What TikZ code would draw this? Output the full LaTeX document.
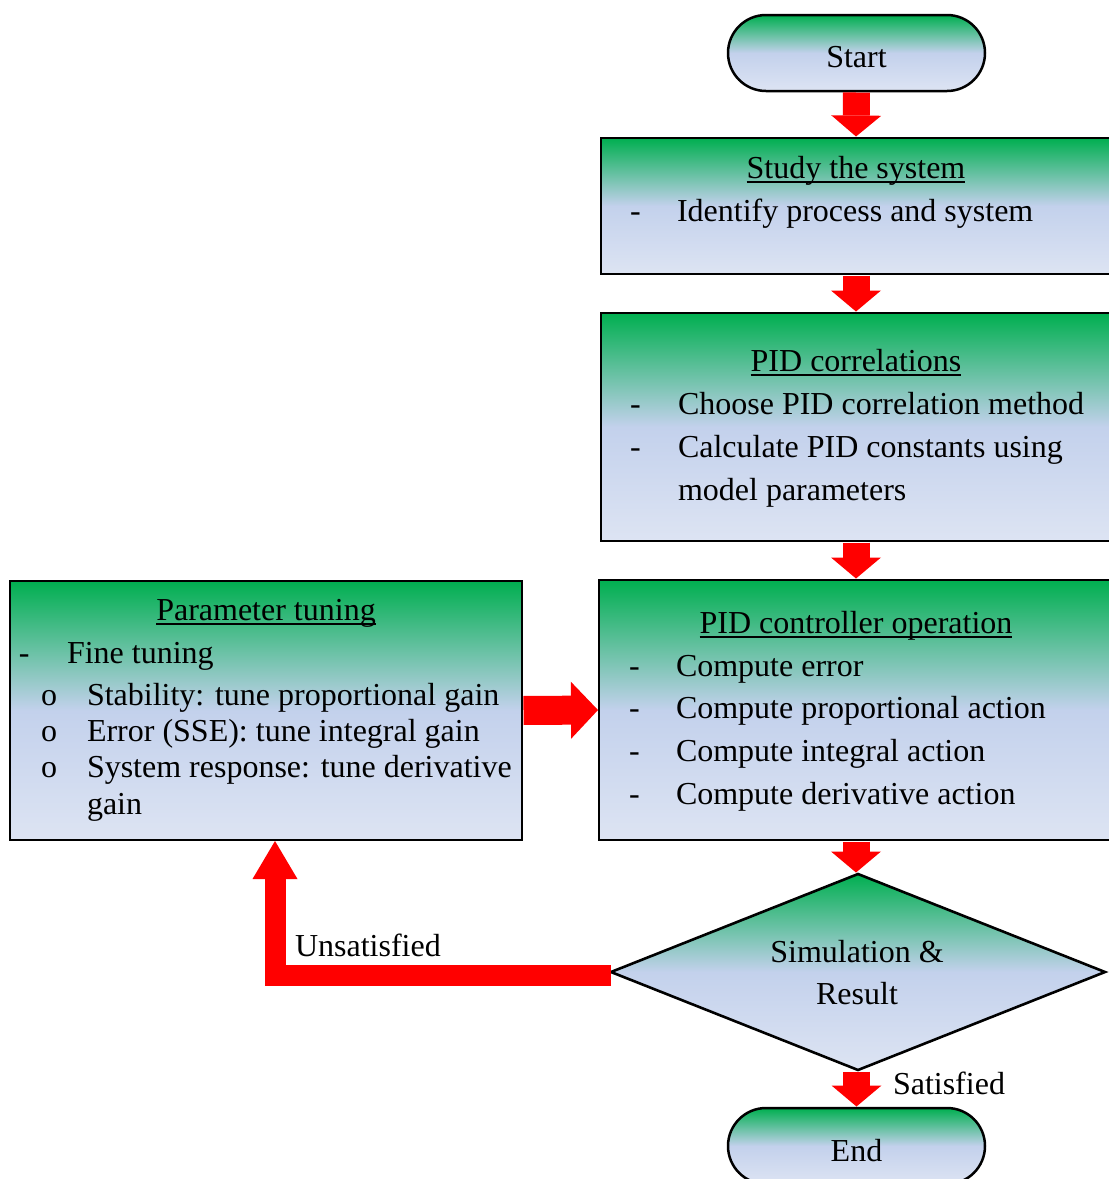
\documentclass[tikz,border=0pt]{standalone}
\usepackage{fontspec}
\setmainfont{Liberation Serif}
\usetikzlibrary{arrows.meta,shapes.geometric}

\definecolor{gbGreen}{HTML}{00AF50}
\definecolor{gbBlue}{HTML}{C3D1EC}
\definecolor{gbLight}{HTML}{DDE4F3}
\definecolor{flowRed}{HTML}{FF0000}

% green at the top, blue at the middle, pale blue at the bottom
\pgfdeclareverticalshading{greenblue}{100bp}{%
  color(0bp)=(gbLight); color(25bp)=(gbLight); color(50bp)=(gbBlue);
  color(75bp)=(gbGreen); color(100bp)=(gbGreen)}

% underline drawn through the descenders
\newcommand\ulword[1]{\setbox0=\hbox{#1}\rlap{\rule[-5pt]{\wd0}{1.8pt}}\box0}

\tikzset{
  x=1pt, y=-1pt,
  every node/.style={inner sep=0pt, outer sep=0pt, font=\fontsize{32}{38}\selectfont},
  procbox/.style={draw=black, line width=2.8pt, shading=greenblue, rectangle},
  termbox/.style={draw=black, line width=2.5pt, shading=greenblue, rectangle,
    rounded corners=38pt, minimum width=257pt, minimum height=76pt},
  decision/.style={draw=black, line width=2.6pt, shading=greenblue, diamond,
    minimum width=494pt, minimum height=196pt},
  txt/.style={anchor=base west},
  ttl/.style={anchor=base},
  downarrow/.style={draw=flowRed, line width=27pt,
    -{Triangle[width=50pt,length=21pt,line width=0pt]}, shorten <=1.5pt, shorten >=1.5pt},
  sidearrow/.style={draw=flowRed, line width=29pt,
    -{Triangle[width=57pt,length=27pt,line width=0pt]}, shorten <=1.5pt, shorten >=1pt},
  backarrow/.style={draw=flowRed, line width=21pt,
    -{Triangle[width=45pt,length=38pt,line width=0pt]}, shorten >=1pt},
}

\begin{document}
\begin{tikzpicture}
\useasboundingbox (0,0) rectangle (1109,1179);
\clip (0,0) rectangle (1109,1179);

% terminals
\node[termbox] (start) at (856.5,53) {};
\node[ttl] (startT) at (856.5,67) {Start};
\node[termbox] (end) at (856.5,1146) {};
\node[ttl] (endT) at (856.5,1161) {End};

% process boxes
\node[procbox, minimum width=510pt, minimum height=136pt] (study) at (856,206) {};
\node[procbox, minimum width=510pt, minimum height=228pt] (corr) at (856,427) {};
\node[procbox, minimum width=514pt, minimum height=260pt] (ctrl) at (856,710) {};
\node[procbox, minimum width=512pt, minimum height=259pt] (param) at (266,710.5) {};

% decision
\node[decision] (sim) at (858,972) {};
\node[ttl] (simT1) at (857,962) {Simulation \&};
\node[ttl] (simT2) at (857,1004) {Result};

% study the system
\node[ttl] (studyT) at (856,178) {\ulword{Study the system}};
\node[txt] (studyD1) at (630,221) {-};
\node[txt] (studyL1) at (677,221) {Identify process and system};

% PID correlations
\node[ttl] (corrT) at (856,371) {\ulword{PID correlations}};
\node[txt] (corrD1) at (630,414) {-};
\node[txt] (corrL1) at (678,414) {Choose PID correlation method};
\node[txt] (corrD2) at (630,457) {-};
\node[txt] (corrL2) at (678,457) {Calculate PID constants using};
\node[txt] (corrL3) at (678,500) {model parameters};

% PID controller operation
\node[ttl] (ctrlT) at (856,633) {\ulword{PID controller operation}};
\node[txt] (ctrlD1) at (629,676) {-};
\node[txt] (ctrlL1) at (676,676) {Compute error};
\node[txt] (ctrlD2) at (629,718) {-};
\node[txt] (ctrlL2) at (676,718) {Compute proportional action};
\node[txt] (ctrlD3) at (629,761) {-};
\node[txt] (ctrlL3) at (676,761) {Compute integral action};
\node[txt] (ctrlD4) at (629,804) {-};
\node[txt] (ctrlL4) at (676,804) {Compute derivative action};

% parameter tuning
\node[ttl] (paramT) at (266,620) {\ulword{Parameter tuning}};
\node[txt] (paramD1) at (19,663) {-};
\node[txt] (paramL1) at (67,663) {Fine tuning};
\node[txt] (paramO1) at (41,705) {o};
\node[txt] (paramL2) at (87,705) {Stability: tune proportional gain};
\node[txt] (paramO2) at (41,741) {o};
\node[txt] (paramL3) at (87,741) {Error (SSE): tune integral gain};
\node[txt] (paramO3) at (41,777) {o};
\node[txt] (paramL4) at (87,777) {System response: tune derivative};
\node[txt] (paramL5) at (87,814) {gain};

% connectors
\draw[downarrow] (start.south) -- (study.north);
\draw[downarrow] (study.south) -- (corr.north);
\draw[downarrow] (corr.south) -- (ctrl.north);
\draw[downarrow] (ctrl.south) -- (ctrl.south |- sim.north);
\draw[downarrow] (sim.south -| end.north) -- (end.north);
\draw[sidearrow] (param.east) -- (ctrl.west);
\coordinate (ux) at (275,0);
\draw[backarrow] ([yshift=-3.5pt]sim.west) -| (param.south -| ux);

% branch labels
\node[txt] (unsat) at (295,956) {Unsatisfied};
\node[txt] (sat) at (893,1094) {Satisfied};
\end{tikzpicture}
\end{document}
